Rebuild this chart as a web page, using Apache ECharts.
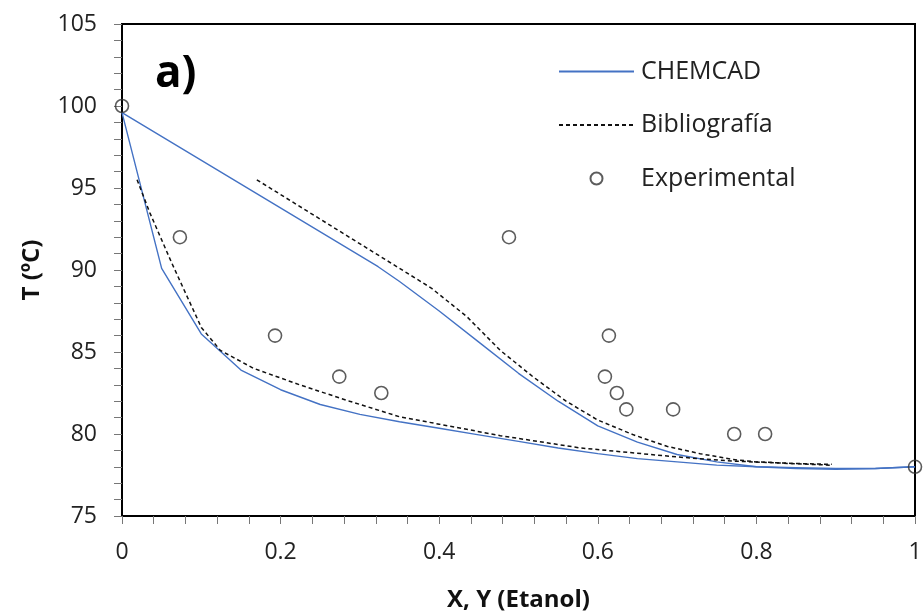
<!DOCTYPE html>
<html>
<head>
<meta charset="utf-8">
<script src="https://cdn.jsdelivr.net/npm/echarts@6/dist/echarts.min.js"></script>
<style>html,body{margin:0;padding:0;background:#fff}#c{width:923px;height:615px}</style>
</head>
<body>
<div id="c"></div>
<script>
// CHEMCAD liquid (bubble) curve
var chemLiqX = [0, 0.05, 0.1, 0.15, 0.2, 0.25, 0.3, 0.35, 0.4, 0.45, 0.5, 0.55, 0.6, 0.65, 0.7, 0.75, 0.8, 0.85, 0.9, 0.95, 1];
var chemLiqT = [99.6, 90.1, 86.1, 83.9, 82.7, 81.8, 81.2, 80.75, 80.35, 79.95, 79.55, 79.15, 78.8, 78.5, 78.3, 78.1, 78.0, 77.95, 77.9, 77.9, 78.0];
// CHEMCAD vapour (dew) curve
var chemVapX = [0, 0.323, 0.35, 0.4, 0.45, 0.5, 0.55, 0.6, 0.65, 0.7, 0.75, 0.8, 0.85, 0.9, 0.95, 1];
var chemVapT = [99.6, 90.2, 89.3, 87.5, 85.6, 83.7, 82.0, 80.5, 79.5, 78.75, 78.3, 78.0, 77.9, 77.85, 77.9, 78.0];
// Bibliografía vapour curve
var bibVapX = [0.17, 0.39, 0.435, 0.477, 0.518, 0.56, 0.6, 0.645, 0.687, 0.729, 0.77, 0.8, 0.85, 0.895];
var bibVapT = [95.5, 88.9, 87.15, 85.1, 83.5, 82.0, 80.85, 79.95, 79.25, 78.8, 78.45, 78.3, 78.2, 78.15];
// Bibliografía liquid curve
var bibLiqX = [0.019, 0.035, 0.063, 0.1, 0.124, 0.166, 0.224, 0.287, 0.35, 0.4, 0.477, 0.578, 0.7, 0.77, 0.893];
var bibLiqT = [95.5, 93.5, 90.4, 86.5, 85.1, 84.0, 83.0, 82.0, 81.05, 80.6, 79.9, 79.15, 78.6, 78.35, 78.1];
// Experimental points
var expX = [0, 0.073, 0.193, 0.274, 0.327, 0.488, 0.614, 0.609, 0.624, 0.636, 0.695, 0.772, 0.811, 1];
var expT = [100, 92, 86, 83.5, 82.5, 92, 86, 83.5, 82.5, 81.5, 81.5, 80, 80, 78];

function pairs(xs, ys) { return xs.map(function (x, i) { return [x, ys[i]]; }); }

var FONT = 'Open Sans';
var chart = echarts.init(document.getElementById('c'), null, { renderer: 'canvas' });
var blue = '#4472C4';
var hidden = { opacity: 0 };
var option = {
  animation: false,
  backgroundColor: '#fff',
  title: {
    text: 'a)', left: 150, top: 47,
    textStyle: { fontFamily: FONT, fontWeight: 'bold', fontSize: 44, color: '#000' }
  },
  grid: { left: 122, right: 8, top: 24, bottom: 99, containLabel: false, outerBoundsMode: 'none',
    show: true, borderColor: '#000', borderWidth: 2, backgroundColor: 'transparent' },
  legend: {
    orient: 'vertical', left: 553, top: 54, itemWidth: 75, itemHeight: 12, itemGap: 28.5,
    textStyle: { fontFamily: FONT, fontSize: 25, color: '#222', padding: [0, 0, 0, 2] },
    data: [
      { name: 'CHEMCAD', itemStyle: hidden },
      { name: 'Bibliografía', itemStyle: hidden },
      { name: 'Experimental', icon: 'circle' }
    ]
  },
  xAxis: {
    type: 'value', min: 0, max: 1, interval: 0.2,
    name: 'X, Y (Etanol)', nameLocation: 'middle', nameGap: 72,
    nameTextStyle: { fontFamily: FONT, fontWeight: 'bold', fontSize: 24, color: '#111' },
    axisLine: { lineStyle: { color: '#000', width: 2 } },
    axisTick: { show: true, length: 8, lineStyle: { color: '#777', width: 1 } },
    minorTick: { show: true, splitNumber: 5, length: 8, lineStyle: { color: '#777', width: 1 } },
    splitLine: { show: false },
    axisLabel: { fontFamily: FONT, fontSize: 23, color: '#222', margin: 25, formatter: function (v) { return String(+v.toFixed(1)); } }
  },
  yAxis: {
    type: 'value', min: 75, max: 105, interval: 5,
    name: 'T (ºC)', nameLocation: 'middle', nameGap: 78, nameRotate: 90,
    nameTextStyle: { fontFamily: FONT, fontWeight: 'bold', fontSize: 24, color: '#111' },
    axisLine: { show: true, lineStyle: { color: '#000', width: 2 } },
    axisTick: { show: true, length: 8, lineStyle: { color: '#777', width: 1 } },
    minorTick: { show: true, splitNumber: 5, length: 8, lineStyle: { color: '#777', width: 1 } },
    splitLine: { show: false },
    axisLabel: { fontFamily: FONT, fontSize: 23, color: '#222', margin: 25 }
  },
  series: [
    { name: 'CHEMCAD', type: 'line', data: pairs(chemLiqX, chemLiqT), showSymbol: false, symbol: 'none', lineStyle: { color: blue, width: 1.4 }, itemStyle: { color: blue }, z: 2 },
    { name: 'CHEMCAD', type: 'line', data: pairs(chemVapX, chemVapT), showSymbol: false, symbol: 'none', lineStyle: { color: blue, width: 1.4 }, itemStyle: { color: blue }, z: 2 },
    { name: 'Bibliografía', type: 'line', data: pairs(bibLiqX, bibLiqT), showSymbol: false, symbol: 'none', lineStyle: { color: '#111', width: 1.5, type: [4, 3] }, itemStyle: { color: '#111' }, z: 3 },
    { name: 'Bibliografía', type: 'line', data: pairs(bibVapX, bibVapT), showSymbol: false, symbol: 'none', lineStyle: { color: '#111', width: 1.5, type: [4, 3] }, itemStyle: { color: '#111' }, z: 3 },
    { name: 'Experimental', type: 'scatter', data: pairs(expX, expT), symbol: 'circle', symbolSize: 13, clip: false,
      itemStyle: { color: 'transparent', borderColor: '#333', borderWidth: 1.6 }, z: 5 }
  ]
};
chart.setOption(option);
</script>
</body>
</html>
